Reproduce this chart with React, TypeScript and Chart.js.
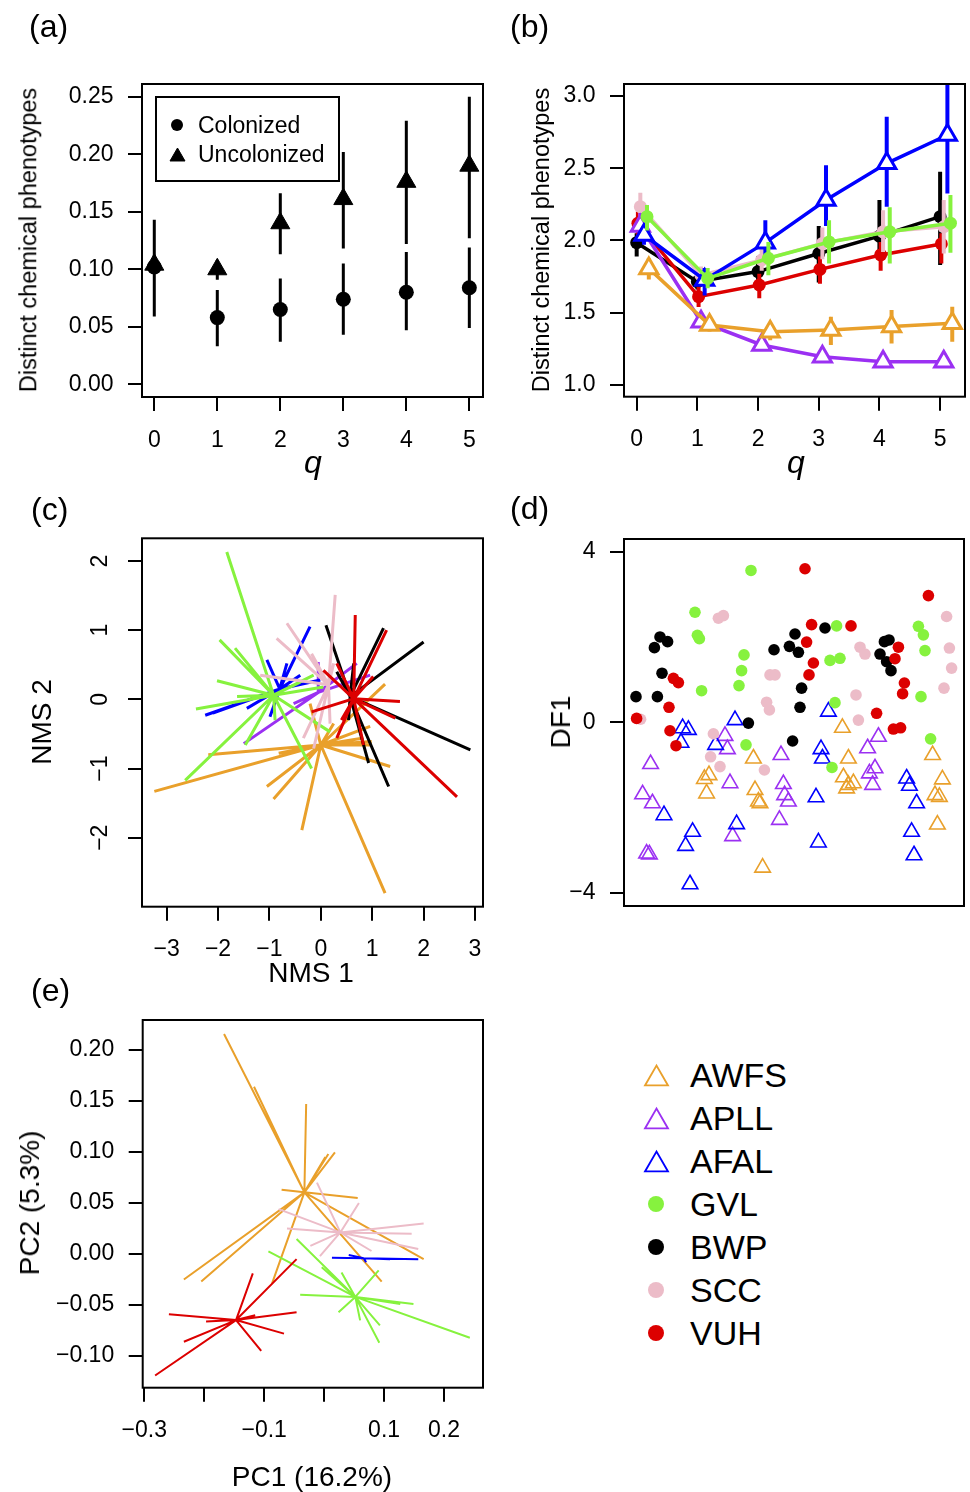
import React, { useEffect, useRef } from 'react';
import { Chart, registerables } from 'chart.js';

Chart.register(...registerables);

const FONT = "'Liberation Sans', Arial, Helvetica, sans-serif";

// ---------------- Panel (a) ----------------
const A_Q = [0, 1, 2, 3, 4, 5];
const A_COL_MEAN = [0.102, 0.058, 0.065, 0.074, 0.080, 0.084];
const A_COL_LO = [0.059, 0.033, 0.037, 0.043, 0.047, 0.049];
const A_COL_HI = [0.143, 0.082, 0.092, 0.105, 0.115, 0.119];
const A_UNC_MEAN = [0.104, 0.100, 0.140, 0.161, 0.176, 0.190];
const A_UNC_LO = [0.096, 0.091, 0.113, 0.118, 0.122, 0.127];
const A_UNC_HI = [0.112, 0.108, 0.166, 0.202, 0.229, 0.250];
const A_Y_TICKS = [0, 0.05, 0.1, 0.15, 0.2, 0.25];
const Q_TICKS = [0, 1, 2, 3, 4, 5];

// ---------------- Populations ----------------
const POPS = ['AWFS', 'APLL', 'AFAL', 'GVL', 'BWP', 'SCC', 'VUH'];
const POP_COLORS = ['#E9A02B', '#9B30F2', '#0000FF', '#86F23E', '#000000', '#ECBCC8', '#DC0000'];
const POP_TRI = [true, true, true, false, false, false, false];

// ---------------- Panel (b) ----------------
const B_Q = [0, 1, 2, 3, 4, 5];
const B_SHIFT = [0.2, 0.06, 0.12, 0.17, 0, 0.06, 0.02];
const B_MEAN = [
  [1.807, 1.415, 1.369, 1.380, 1.404, 1.427],
  [2.100, 1.438, 1.277, 1.196, 1.161, 1.161],
  [2.038, 1.727, 1.985, 2.280, 2.534, 2.730],
  [2.165, 1.738, 1.877, 1.990, 2.060, 2.120],
  [1.985, 1.715, 1.785, 1.910, 2.030, 2.165],
  [2.234, 1.760, 1.865, 1.980, 2.060, 2.095],
  [2.119, 1.611, 1.692, 1.800, 1.900, 1.976],
];
const B_LO = [
  [1.730, 1.370, 1.310, 1.277, 1.288, 1.300],
  [2.030, 1.410, 1.250, 1.170, 1.140, 1.140],
  [1.970, 1.620, 1.900, 2.100, 2.234, 2.326],
  [2.070, 1.670, 1.760, 1.840, 1.840, 1.916],
  [1.890, 1.660, 1.700, 1.710, 1.865, 1.830],
  [2.140, 1.700, 1.790, 1.870, 1.920, 1.910],
  [2.040, 1.540, 1.600, 1.700, 1.790, 1.840],
];
const B_HI = [
  [1.877, 1.460, 1.430, 1.473, 1.519, 1.542],
  [2.190, 1.470, 1.300, 1.220, 1.190, 1.190],
  [2.100, 1.810, 2.140, 2.520, 2.857, 3.076],
  [2.246, 1.810, 1.990, 2.140, 2.230, 2.315],
  [2.050, 1.770, 1.890, 2.100, 2.280, 2.476],
  [2.330, 1.820, 1.940, 2.090, 2.210, 2.280],
  [2.200, 1.680, 1.770, 1.890, 1.990, 2.050],
];
const B_DRAW_ORDER = [4, 6, 5, 1, 2, 0, 3];
const B_Y_TICKS = [1, 1.5, 2, 2.5, 3];

// ---------------- Panel (c) NMS spider ----------------
const C_CX = [0, -0.05, -0.8, -0.92, 0.57, 0.15, 0.64];
const C_CY = [-0.66, 0.1, 0.15, 0.06, 0.04, 0.21, 0.01];
const C_EX = [
  [-3.24, -2.19, -1.05, -0.92, -0.37, 1.25, 1.35, 0.99, 0.99, 0.96, 1.25, 0.83, -0.21, -0.82, 0.25],
  [-1.50, -0.05, 0.70, 0.96, -0.53, 0.30],
  [-2.25, -2.10, -0.21, -1.05, -0.66, -1.44, -0.99, -0.01, -0.40],
  [-1.83, -1.97, -1.67, -2.02, -2.43, -2.64, -1.47, -0.18, 0.18, 0.05, -0.14, -0.89, -1.63, -0.40],
  [0.10, 1.22, 2.00, 2.91, 1.32, 0.93, 0.54, 0.31, 0.64],
  [0.28, -0.66, -0.86, -1.18, -0.34, -0.14, 0.18, -0.18, 0.25],
  [0.67, 1.28, 1.54, 1.45, 2.65, 0.83, 0.31, -0.18, 0.05, 0.31, 1.02, 0.40],
];
const C_EY = [
  [-1.33, -0.80, -1.26, -1.44, -1.89, -2.80, -0.97, -0.61, -0.66, -0.39, 0.22, -0.56, -0.06, -0.78, -0.35],
  [-0.64, 0.54, 0.52, 0.35, -0.06, 0.30],
  [-0.23, -0.20, 1.05, 0.57, 0.52, -0.13, -0.25, 0.28, 0.35],
  [2.13, 0.86, 0.74, 0.27, -0.14, -1.17, -0.66, -1.00, -0.47, 0.18, 0.35, -0.30, 0.04, 0.25],
  [1.07, 1.03, 0.83, -0.73, -1.26, -0.92, -0.30, 0.40, 0.52],
  [1.51, 1.10, 0.88, 0.35, -0.56, -0.71, -0.35, 0.66, 0.52],
  [1.22, 1.00, -0.03, -0.27, -1.41, -0.66, -0.56, -0.18, 0.42, 0.52, 0.33, -0.30],
];
const C_X_TICKS = [-3, -2, -1, 0, 1, 2, 3];
const C_Y_TICKS = [-2, -1, 0, 1, 2];

// ---------------- Panel (d) DF1 ----------------
const D_X = [
  [40.2, 42.5, 41.3, 64.7, 65.5, 67.2, 68.0, 69.3, 109.2, 112.2, 109.7, 112.2, 114.7, 111.3, 154.3, 159.2, 155.5, 157.7, 156.7],
  [13.3, 9.3, 14.2, 11.3, 12.7, 50.5, 51.7, 53.0, 54.3, 78.5, 79.7, 80.3, 82.2, 77.7, 121.8, 127.2, 125.5, 122.7, 124.3],
  [29.3, 32.2, 28.5, 20.0, 34.3, 30.8, 33.0, 55.5, 45.8, 56.3, 102.2, 98.5, 99.2, 96.0, 97.2, 141.3, 142.7, 146.3, 143.8, 145.0],
  [35.5, 36.7, 37.7, 38.8, 63.5, 60.0, 58.8, 57.5, 61.0, 106.3, 103.0, 108.0, 105.5, 104.0, 147.2, 149.7, 150.5, 148.5, 153.3],
  [6.0, 16.7, 19.0, 15.2, 18.0, 21.8, 62.2, 75.0, 82.7, 85.5, 87.2, 88.8, 88.0, 84.3, 100.5, 128.0, 130.2, 132.5, 131.3, 133.5],
  [8.3, 47.2, 49.7, 73.0, 75.5, 71.3, 72.7, 44.7, 43.3, 48.0, 70.2, 118.0, 120.5, 116.0, 117.2, 161.3, 162.7, 163.8, 160.0],
  [6.3, 22.5, 24.7, 27.2, 23.0, 26.0, 90.5, 93.8, 91.3, 94.7, 92.5, 113.5, 126.3, 152.2, 137.2, 135.5, 140.2, 139.3, 134.7, 138.3],
];
const D_Y = [
  [-1.33, -1.24, -1.67, -0.85, -1.59, -1.86, -1.90, -3.41, -0.13, -0.85, -1.29, -1.47, -1.43, -1.55, -0.77, -1.34, -1.71, -1.75, -2.40],
  [-0.98, -1.69, -1.90, -3.08, -3.10, -0.32, -0.63, -1.43, -2.67, -0.77, -1.45, -1.71, -1.86, -2.29, -0.61, -0.34, -1.08, -1.20, -1.47],
  [-0.14, -0.18, -0.48, -2.18, -2.57, -2.90, -3.80, 0.05, -0.53, -2.39, 0.25, -0.63, -0.85, -1.76, -2.82, -1.32, -1.49, -1.90, -2.57, -3.12],
  [2.58, 2.04, 1.96, 0.74, 3.56, 1.58, 1.21, 0.86, -0.53, 2.26, 1.45, 1.50, 0.46, -1.06, 2.25, 2.05, 1.68, 0.60, -0.39],
  [0.60, 0.60, 1.15, 1.75, 2.00, 1.89, -0.02, 1.70, 1.78, 2.07, 1.64, 0.80, 0.35, -0.44, 2.21, 1.60, 1.89, 1.93, 1.42, 1.21],
  [0.07, 2.44, 2.50, 1.11, 1.11, 0.47, 0.29, -0.27, -0.81, -1.04, -1.12, 1.76, 1.60, 0.64, 0.05, 2.48, 1.74, 1.27, 0.80],
  [0.09, 0.35, 1.03, 0.93, -0.20, -0.55, 3.60, 2.29, 1.88, 1.39, 1.11, 2.26, 0.21, 2.97, 1.76, 1.49, 0.92, 0.67, -0.16, -0.13],
];
const D_Y_TICKS = [-4, 0, 4];

// ---------------- Panel (e) PCA spider ----------------
const E_CX = [-0.033, 0, 0.066, 0.052, 0, 0.027, -0.147];
const E_CY = [0.0605, 0, -0.004, -0.042, 0, 0.0212, -0.0647];
const E_EX = [
  [-0.167, -0.117, -0.030, 0.018, 0.007, 0.002, -0.071, 0.056, 0.166, 0.096, -0.087, -0.234, -0.205],
  [],
  [0.013, 0.157, 0.041, 0.110, 0.070],
  [-0.046, -0.093, -0.004, 0.029, 0.091, 0.243, 0.149, 0.127, 0.092, 0.093, 0.060, 0.024, -0.040],
  [],
  [-0.012, 0.058, -0.076, -0.062, 0.166, 0.146, 0.157, 0.079, -0.007, -0.023],
  [-0.282, -0.234, -0.259, -0.197, -0.119, -0.046, -0.046, -0.067, -0.105, -0.115],
];
const E_EY = [
  [0.2157, 0.164, 0.147, 0.0997, 0.098, 0.095, 0.063, 0.055, -0.005, -0.027, -0.029, -0.025, -0.027],
  [],
  [-0.0036, -0.005, -0.001, -0.005, -0.008],
  [0.0147, 0.0026, -0.013, -0.018, -0.016, -0.082, -0.049, -0.049, -0.087, -0.070, -0.065, -0.057, -0.040],
  [],
  [0.070, 0.050, 0.044, 0.025, 0.030, 0.020, 0.005, 0.003, -0.002, 0.008],
  [-0.119, -0.086, -0.059, -0.066, -0.019, -0.005, -0.057, -0.078, -0.095, -0.060],
];
const E_DRAW_ORDER = [0, 5, 3, 6, 2];
const E_X_TICKS = [-0.3, -0.2, -0.1, 0, 0.1, 0.2];
const E_X_SHOWN = [-0.3, -0.1, 0.1, 0.2];
const E_Y_TICKS = [-0.1, -0.05, 0, 0.05, 0.1, 0.15, 0.2];

// ---------------- helpers ----------------
type Rect = { x: number; y: number; w: number; h: number };
type Area = { l: number; t: number; r: number; b: number };

const PAD_L = 10;
function layoutFor(cv: Rect, ca: Area, xh: number) {
  return {
    padding: { left: PAD_L, top: ca.t - cv.y, right: cv.x + cv.w - ca.r, bottom: cv.y + cv.h - ca.b - xh },
    yw: ca.l - cv.x - PAD_L,
    xh,
  };
}

const boxPlugin = {
  id: 'rbox',
  afterDraw(chart: any) {
    const { ctx, chartArea: a } = chart;
    ctx.save();
    ctx.strokeStyle = '#000';
    ctx.lineWidth = 2;
    ctx.strokeRect(a.left, a.top, a.right - a.left, a.bottom - a.top);
    ctx.restore();
  },
};

function axis(kind: 'x' | 'y', min: number, max: number, ticks: number[], fmt: (v: number) => string, size: number, rotated = false) {
  return {
    type: 'linear',
    position: kind === 'x' ? 'bottom' : 'left',
    min,
    max,
    afterBuildTicks: (s: any) => {
      s.ticks = ticks.map((v) => ({ value: v }));
    },
    afterFit: (s: any) => {
      if (kind === 'x') s.height = size;
      else s.width = size;
    },
    grid: { drawOnChartArea: false, drawTicks: true, tickLength: 14, color: '#000', lineWidth: 2 },
    border: { display: false },
    ticks: {
      autoSkip: false,
      minRotation: rotated ? 90 : 0,
      maxRotation: rotated ? 90 : 0,
      crossAlign: rotated ? 'center' : 'near',
      padding: kind === 'x' ? 15.5 : 14.5,
      color: '#000',
      font: { family: FONT, size: 23 },
      callback: (v: number) => fmt(v).replace('-', '\u2212'),
    },
  };
}

function errPoints(xs: number[], lo: number[], hi: number[]) {
  const pts: any[] = [];
  xs.forEach((x, i) => {
    pts.push({ x, y: lo[i] }, { x, y: hi[i] }, { x, y: null });
  });
  return pts;
}

function spokes(cx: number, cy: number, ex: number[], ey: number[]) {
  const pts: any[] = [];
  ex.forEach((x, i) => {
    pts.push({ x: cx, y: cy }, { x, y: ey[i] }, { x: cx, y: null });
  });
  return pts;
}

function segDs(data: any[], color: string, width: number) {
  return {
    type: 'line',
    data,
    borderColor: color,
    borderWidth: width,
    pointRadius: 0,
    pointHoverRadius: 0,
    spanGaps: false,
    tension: 0,
    fill: false,
    borderCapStyle: 'butt',
  };
}

function markerDs(data: any[], color: string, style: string, radius: number, bw: number, fill: string, lineWidth = 0) {
  return {
    type: 'line',
    data,
    showLine: lineWidth > 0,
    borderColor: color,
    borderWidth: lineWidth,
    backgroundColor: fill,
    pointStyle: style,
    pointRadius: radius,
    pointHoverRadius: radius,
    pointBorderWidth: bw,
    pointBorderColor: color,
    pointBackgroundColor: fill,
    spanGaps: false,
    tension: 0,
    fill: false,
  };
}

function withOrder(list: any[]) {
  return list.map((d, i) => ({ ...d, order: list.length - i }));
}

function baseConfig(datasets: any[], scales: any, lay: any) {
  return {
    type: 'line',
    data: { datasets: withOrder(datasets) },
    options: {
      responsive: false,
      animation: false,
      devicePixelRatio: 1,
      events: [],
      layout: { padding: lay.padding },
      plugins: { legend: { display: false }, tooltip: { enabled: false }, title: { display: false } },
      scales,
    },
    plugins: [boxPlugin],
  };
}

// ---------------- panel geometry ----------------
const A_CV: Rect = { x: 0, y: 40, w: 530, h: 440 };
const A_CA: Area = { l: 142, t: 84, r: 483, b: 397 };
const B_CV: Rect = { x: 490, y: 40, w: 540, h: 440 };
const B_CA: Area = { l: 624, t: 84, r: 965, b: 396.7 };
const C_CV: Rect = { x: 0, y: 495, w: 530, h: 495 };
const C_CA: Area = { l: 142, t: 538.3, r: 483, b: 906.7 };
const D_CV: Rect = { x: 490, y: 495, w: 540, h: 480 };
const D_CA: Area = { l: 624, t: 539, r: 964, b: 906 };
const E_CV: Rect = { x: 0, y: 980, w: 530, h: 512 };
const E_CA: Area = { l: 142.7, t: 1020, r: 483, b: 1387.7 };

function configA() {
  const lay = layoutFor(A_CV, A_CA, 60);
  const ds = [
    segDs(errPoints(A_Q, A_UNC_LO, A_UNC_HI), '#000', 3),
    segDs(errPoints(A_Q, A_COL_LO, A_COL_HI), '#000', 3),
    markerDs(A_Q.map((q, i) => ({ x: q, y: A_COL_MEAN[i] })), '#000', 'circle', 7.5, 0, '#000'),
    markerDs(A_Q.map((q, i) => ({ x: q, y: A_UNC_MEAN[i] })), '#000', 'triangle', 11, 1, '#000'),
  ];
  return baseConfig(ds, {
    x: axis('x', -0.195, 5.217, Q_TICKS, (v) => String(v), lay.xh),
    y: axis('y', -0.011, 0.261, A_Y_TICKS, (v) => v.toFixed(2), lay.yw),
  }, lay);
}

function configB() {
  const lay = layoutFor(B_CV, B_CA, 60);
  const ds: any[] = [];
  B_DRAW_ORDER.forEach((p) => {
    const xs = B_Q.map((q) => q + B_SHIFT[p]);
    const tri = POP_TRI[p];
    ds.push(segDs(errPoints(xs, B_LO[p], B_HI[p]), POP_COLORS[p], 4));
    ds.push(markerDs(xs.map((x, i) => ({ x, y: B_MEAN[p][i] })), POP_COLORS[p], tri ? 'triangle' : 'circle', tri ? 10.5 : 6.5, tri ? 3 : 0, tri ? '#fff' : POP_COLORS[p], 3.5));
  });
  return baseConfig(ds, {
    x: axis('x', -0.209, 5.41, Q_TICKS, (v) => String(v), lay.xh),
    y: axis('y', 0.919, 3.083, B_Y_TICKS, (v) => v.toFixed(1), lay.yw),
  }, lay);
}

function configC() {
  const lay = layoutFor(C_CV, C_CA, 60);
  const ds = POPS.map((_, p) => segDs(spokes(C_CX[p], C_CY[p], C_EX[p], C_EY[p]), POP_COLORS[p], 3));
  return baseConfig(ds, {
    x: axis('x', -3.48, 3.156, C_X_TICKS, (v) => String(v), lay.xh),
    y: axis('y', -2.997, 2.328, C_Y_TICKS, (v) => String(v), lay.yw, true),
  }, lay);
}

function configD() {
  const lay = layoutFor(D_CV, D_CA, 0);
  const ds = POPS.map((_, p) => {
    const tri = POP_TRI[p];
    return markerDs(D_X[p].map((x, i) => ({ x, y: D_Y[p][i] })), POP_COLORS[p], tri ? 'triangle' : 'circle', tri ? 9 : 5.8, tri ? 1.6 : 0, tri ? 'rgba(0,0,0,0)' : POP_COLORS[p]);
  });
  return baseConfig(ds, {
    x: { type: 'linear', display: false, min: 0, max: 170 },
    y: axis('y', -4.31, 4.298, D_Y_TICKS, (v) => String(v), lay.yw),
  }, lay);
}

function configE() {
  const lay = layoutFor(E_CV, E_CA, 60);
  const ds = E_DRAW_ORDER.map((p) => segDs(spokes(E_CX[p], E_CY[p], E_EX[p], E_EY[p]), POP_COLORS[p], 2));
  return baseConfig(ds, {
    x: axis('x', -0.3027, 0.265, E_X_TICKS, (v) => (E_X_SHOWN.some((s) => Math.abs(s - v) < 1e-9) ? v.toFixed(1) : ''), lay.xh),
    y: axis('y', -0.131, 0.2294, E_Y_TICKS, (v) => v.toFixed(2), lay.yw),
  }, lay);
}

// ---------------- components ----------------
function ChartCanvas({ rect, make }: { rect: Rect; make: () => any }) {
  const ref = useRef<HTMLCanvasElement>(null);
  useEffect(() => {
    const chart = new Chart(ref.current as HTMLCanvasElement, make());
    return () => chart.destroy();
  }, []);
  return (
    <canvas
      ref={ref}
      width={rect.w}
      height={rect.h}
      style={{ position: 'absolute', left: rect.x, top: rect.y, width: rect.w, height: rect.h }}
    />
  );
}

function Txt({ x, y, size, text, rot = false, italic = false, left = false }: any) {
  const style: React.CSSProperties = {
    position: 'absolute',
    left: x,
    top: y,
    fontSize: size,
    lineHeight: 1,
    whiteSpace: 'nowrap',
    fontFamily: FONT,
    fontStyle: italic ? 'italic' : 'normal',
    color: '#000',
    transform: left ? 'translate(0,-50%)' : `translate(-50%,-50%)${rot ? ' rotate(-90deg)' : ''}`,
  };
  return <div style={style}>{text}</div>;
}

function Marker({ x, y, tri, color, size, filled, sw }: any) {
  const s = size + 6;
  const h = (size * Math.sqrt(3)) / 2;
  return (
    <svg width={s} height={s} style={{ position: 'absolute', left: x - s / 2, top: y - s / 2, overflow: 'visible' }}>
      {tri ? (
        <polygon
          points={`${s / 2 - size / 2},${s / 2 + h / 2} ${s / 2 + size / 2},${s / 2 + h / 2} ${s / 2},${s / 2 - h / 2}`}
          fill={filled ? color : 'none'}
          stroke={color}
          strokeWidth={sw}
        />
      ) : (
        <circle cx={s / 2} cy={s / 2} r={size / 2} fill={color} />
      )}
    </svg>
  );
}

export default function App() {
  return (
    <div style={{ position: 'absolute', left: 0, top: 0, width: 970, height: 1492, background: '#fff', fontFamily: FONT, overflow: 'hidden' }}>
      <ChartCanvas rect={A_CV} make={configA} />
      <ChartCanvas rect={B_CV} make={configB} />
      <ChartCanvas rect={C_CV} make={configC} />
      <ChartCanvas rect={D_CV} make={configD} />
      <ChartCanvas rect={E_CV} make={configE} />

      {/* panel letters */}
      <Txt x={29} y={26} size={32} text="(a)" left />
      <Txt x={510} y={26} size={32} text="(b)" left />
      <Txt x={31} y={509} size={32} text="(c)" left />
      <Txt x={510} y={508} size={32} text="(d)" left />
      <Txt x={31} y={990} size={32} text="(e)" left />

      {/* axis titles */}
      <Txt x={29} y={240} size={23.5} text="Distinct chemical phenotypes" rot />
      <Txt x={313} y={462} size={32} text="q" italic />
      <Txt x={542} y={240} size={23.5} text="Distinct chemical phenotypes" rot />
      <Txt x={796} y={462} size={32} text="q" italic />
      <Txt x={42} y={722} size={28} text="NMS 2" rot />
      <Txt x={311} y={973} size={28} text="NMS 1" />
      <Txt x={561} y={722} size={28} text="DF1" rot />
      <Txt x={30} y={1203} size={28} text="PC2 (5.3%)" rot />
      <Txt x={312} y={1477} size={28} text="PC1 (16.2%)" />

      {/* legend panel (a) */}
      <div style={{ position: 'absolute', left: 155, top: 96, width: 185, height: 86, border: '2px solid #000', boxSizing: 'border-box' }} />
      <Marker x={177} y={125} tri={false} color="#000" size={12} />
      <Txt x={198} y={125} size={23} text="Colonized" left />
      <Marker x={177} y={154} tri color="#000" size={15} filled sw={1} />
      <Txt x={198} y={154} size={23} text="Uncolonized" left />

      {/* population legend */}
      {POPS.map((name, i) => {
        const cy = 1075 + 43 * i;
        return (
          <React.Fragment key={name}>
            <Marker x={656} y={cy} tri={POP_TRI[i]} color={POP_COLORS[i]} size={POP_TRI[i] ? 23 : 16} sw={1.8} />
            <Txt x={690} y={cy} size={34} text={name} left />
          </React.Fragment>
        );
      })}
    </div>
  );
}
